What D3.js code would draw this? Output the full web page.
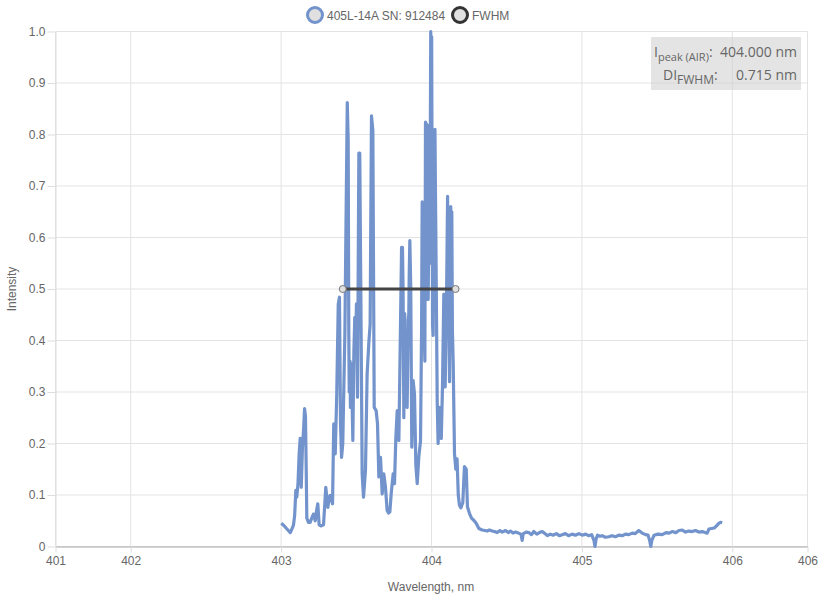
<!DOCTYPE html>
<html><head><meta charset="utf-8">
<script src="https://cdn.jsdelivr.net/npm/d3@7"></script>
<style>body{margin:0;background:#fff} svg{display:block}</style>
</head><body><svg id="c" width="820" height="600"></svg>
<script>
const wavelengths=[
403.001,403.010,403.027,403.045,403.061,403.072,403.082,403.090,403.098,403.104,
403.112,403.120,403.127,403.134,403.142,403.150,403.156,403.162,403.167,403.171,
403.182,403.193,403.205,403.215,403.227,403.236,403.244,403.253,403.265,403.282,
403.290,403.297,403.311,403.320,403.326,403.342,403.350,403.360,403.370,403.380,
403.388,403.395,403.402,403.410,403.424,403.440,403.446,403.450,403.453,403.455,
403.458,403.461,403.464,403.468,403.472,403.477,403.484,403.490,403.496,403.501,
403.508,403.517,403.523,403.530,403.539,403.548,403.561,403.572,403.583,403.592,
403.601,403.610,403.619,403.632,403.641,403.650,403.661,403.672,403.683,403.694,
403.705,403.714,403.723,403.732,403.745,403.754,403.763,403.772,403.783,403.789,
403.801,403.804,403.807,403.811,403.816,403.822,403.826,403.829,403.838,403.842,
403.845,403.849,403.852,403.856,403.862,403.869,403.878,403.887,403.896,403.905,
403.916,403.927,403.934,403.938,403.945,403.949,403.956,403.960,403.967,403.971,
403.975,403.978,403.981,403.985,403.989,403.992,403.995,403.998,404.001,404.004,
404.007,404.011,404.014,404.018,404.020,404.023,404.026,404.029,404.038,404.044,
404.053,404.065,404.073,404.082,404.091,404.100,404.107,404.110,404.113,404.116,
404.120,404.124,404.128,404.131,404.135,404.139,404.144,404.153,404.162,404.170,
404.178,404.186,404.195,404.208,404.219,404.231,404.239,404.253,404.266,404.281,
404.297,404.315,404.337,404.355,404.370,404.385,404.404,404.420,404.437,404.455,
404.470,404.492,404.510,404.525,404.542,404.558,404.578,404.595,404.603,404.610,
404.630,404.647,404.665,404.680,404.700,404.718,404.736,404.755,404.770,404.790,
404.810,404.830,404.850,404.869,404.890,404.911,404.935,404.957,404.980,405.002,
405.025,405.044,405.065,405.080,405.087,405.094,405.104,405.120,405.135,405.155,
405.179,405.200,405.223,405.245,405.268,405.290,405.312,405.335,405.355,405.378,
405.400,405.423,405.440,405.452,405.458,405.465,405.480,405.505,405.534,405.560,
405.580,405.600,405.625,405.645,405.667,405.690,405.711,405.733,405.755,405.778,
405.800,405.820,405.833,405.845,405.862,405.880,405.895,405.910,405.922,405.933];
const intensities=[
0.045,0.043,0.038,0.032,0.027,0.034,0.041,0.060,0.109,0.096,
0.120,0.180,0.210,0.115,0.193,0.230,0.268,0.252,0.150,0.055,
0.047,0.047,0.056,0.063,0.050,0.070,0.083,0.042,0.040,0.042,
0.080,0.115,0.076,0.095,0.099,0.083,0.238,0.180,0.296,0.471,
0.484,0.238,0.173,0.200,0.413,0.862,0.790,0.420,0.300,0.348,
0.360,0.270,0.330,0.355,0.280,0.206,0.380,0.445,0.400,0.471,
0.290,0.764,0.764,0.497,0.141,0.096,0.148,0.335,0.394,0.432,
0.836,0.808,0.270,0.264,0.238,0.135,0.173,0.102,0.141,0.115,
0.070,0.065,0.067,0.102,0.141,0.122,0.212,0.264,0.206,0.329,
0.581,0.450,0.581,0.500,0.250,0.452,0.300,0.387,0.270,0.360,
0.439,0.450,0.530,0.594,0.503,0.193,0.322,0.296,0.158,0.122,
0.175,0.205,0.420,0.669,0.662,0.450,0.360,0.824,0.820,0.480,
0.700,0.480,0.600,0.818,0.560,0.780,1.000,0.550,0.990,0.700,
0.430,0.410,0.620,0.770,0.500,0.810,0.700,0.600,0.280,0.200,
0.270,0.210,0.310,0.490,0.310,0.480,0.680,0.520,0.640,0.450,
0.320,0.500,0.660,0.560,0.650,0.420,0.360,0.180,0.150,0.170,
0.100,0.080,0.075,0.085,0.155,0.150,0.077,0.064,0.055,0.051,
0.045,0.035,0.032,0.031,0.030,0.032,0.030,0.029,0.027,0.031,
0.028,0.031,0.027,0.030,0.026,0.028,0.026,0.024,0.012,0.025,
0.028,0.027,0.023,0.029,0.024,0.027,0.029,0.025,0.021,0.024,
0.022,0.025,0.021,0.023,0.025,0.021,0.024,0.022,0.025,0.022,
0.024,0.021,0.023,0.012,0.000,0.014,0.022,0.020,0.021,0.018,
0.019,0.021,0.019,0.022,0.021,0.024,0.023,0.026,0.025,0.031,
0.026,0.023,0.022,0.010,0.000,0.012,0.022,0.024,0.023,0.027,
0.026,0.029,0.027,0.031,0.032,0.028,0.030,0.029,0.031,0.028,
0.029,0.027,0.026,0.034,0.035,0.036,0.040,0.045,0.047,0.046];
const fwhmWavelengths=[403.41,404.16];
const fwhmIntensities=[0.5,0.5];
const xTickValues=[401.5,402,403,404,405,406,406.5];
const xTickLabels=["401","402","403","404","405","406","406"];
const yTickValues=[0,0.1,0.2,0.3,0.4,0.5,0.6,0.7,0.8,0.9,1.0];
const yTickLabels=["0","0.1","0.2","0.3","0.4","0.5","0.6","0.7","0.8","0.9","1.0"];
const seriesNames=["405L-14A SN: 912484","FWHM"];
const xTitle="Wavelength, nm", yTitle="Intensity";
const peakValue="404.000 nm", fwhmValue="0.715 nm";

const svg=d3.select("#c");
const font="'Liberation Sans', Arial, sans-serif";
const x=d3.scaleLinear().domain([401.5,406.5]).range([55.5,807.5]);
const y=d3.scaleLinear().domain([0,1]).range([546.5,31.5]);

// grid
const g=svg.append("g");
g.selectAll("line.h").data(yTickValues).join("line")
 .attr("x1",x(401.5)).attr("x2",x(406.5)).attr("y1",d=>y(d)).attr("y2",d=>y(d))
 .attr("stroke","#e3e3e3");
g.selectAll("line.v").data(xTickValues).join("line")
 .attr("x1",d=>x(d)).attr("x2",d=>x(d)).attr("y1",y(1)).attr("y2",y(0))
 .attr("stroke","#e3e3e3");

// axes
const xa=svg.append("g").attr("transform",`translate(0,${y(0)})`)
 .call(d3.axisBottom(x).tickValues(xTickValues).tickFormat((d,i)=>xTickLabels[i]).tickSize(6).tickSizeOuter(0).tickPadding(4));
xa.select(".domain").attr("stroke","#aaa");
xa.selectAll(".tick line").attr("stroke","#ddd");
xa.selectAll("text").attr("fill","#666").style("font-size","12px").style("font-family",font);
const ya=svg.append("g").attr("transform",`translate(${x(401.5)},0)`)
 .call(d3.axisLeft(y).tickValues(yTickValues).tickFormat((d,i)=>yTickLabels[i]).tickSize(8).tickSizeOuter(0).tickPadding(2));
ya.select(".domain").attr("stroke","#ddd");
ya.selectAll(".tick line").attr("stroke","#ddd");
ya.selectAll("text").attr("fill","#666").style("font-size","12px").style("font-family",font);

svg.append("text").attr("x",431).attr("y",591).attr("text-anchor","middle")
 .attr("fill","#666").style("font-size","12px").style("font-family",font).text(xTitle);
svg.append("text").attr("transform","translate(16,289) rotate(-90)").attr("text-anchor","middle")
 .attr("fill","#666").style("font-size","12px").style("font-family",font).text(yTitle);

// spectrum
const n=Math.min(wavelengths.length,intensities.length);
const pts=wavelengths.slice(0,n).map((w,i)=>[w,intensities[i]]);
svg.append("path").datum(pts)
 .attr("d",d3.line().x(d=>x(d[0])).y(d=>y(d[1])))
 .attr("fill","none").attr("stroke","#7293cb").attr("stroke-width",3.2).attr("stroke-linejoin","round");

// FWHM
const fp=fwhmWavelengths.map((w,i)=>[w,fwhmIntensities[i]]);
svg.append("path").datum(fp)
 .attr("d",d3.line().x(d=>x(d[0])).y(d=>y(d[1])))
 .attr("fill","none").attr("stroke","#444").attr("stroke-width",3);
svg.selectAll("circle.f").data(fp).join("circle")
 .attr("cx",d=>x(d[0])).attr("cy",d=>y(d[1])).attr("r",3.5)
 .attr("fill","#e0e0e0").attr("stroke","#777").attr("stroke-width",1);

// legend
const leg=[{cx:315,tx:327,stroke:"#7293cb",name:seriesNames[0]},{cx:460,tx:472,stroke:"#333",name:seriesNames[1]}];
leg.forEach(l=>{
 svg.append("circle").attr("cx",l.cx).attr("cy",15).attr("r",7.5)
  .attr("fill","#e0e0e0").attr("stroke",l.stroke).attr("stroke-width",3);
 svg.append("text").attr("x",l.tx).attr("y",19.5).attr("fill","#666")
  .style("font-size","12px").style("font-family",font).text(l.name);
});

// info box
svg.append("rect").attr("x",651).attr("y",37).attr("width",150).attr("height",53)
 .attr("fill","rgba(205,205,205,0.55)");
const bf="'Open Sans', 'Liberation Sans', sans-serif";
const t1=svg.append("text").attr("x",654).attr("y",57).attr("fill","#666").style("font-size","14px").style("font-family",bf);
t1.append("tspan").text("I");
t1.append("tspan").attr("dy",4).style("font-size","11px").text("peak (AIR)");
t1.append("tspan").attr("dy",-4).text(":");
svg.append("text").attr("x",797).attr("y",57).attr("text-anchor","end").attr("fill","#666")
 .style("font-size","14px").style("font-family",bf).text(peakValue);
const t2=svg.append("text").attr("x",663).attr("y",80).attr("fill","#666").style("font-size","14px").style("font-family",bf);
t2.append("tspan").text("DI");
t2.append("tspan").attr("dy",4).style("font-size","12px").text("FWHM");
t2.append("tspan").attr("dy",-4).text(":");
svg.append("text").attr("x",797).attr("y",80).attr("text-anchor","end").attr("fill","#666")
 .style("font-size","14px").style("font-family",bf).text(fwhmValue);
</script></body></html>
